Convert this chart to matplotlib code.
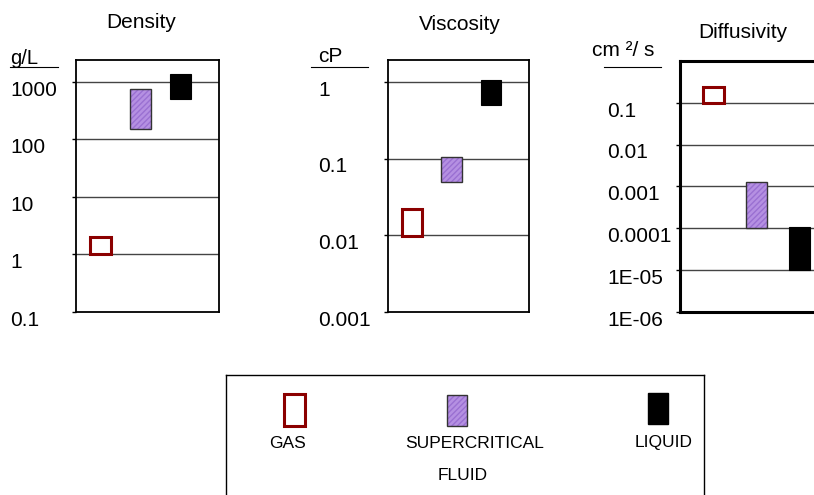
import matplotlib.pyplot as plt
from matplotlib.lines import Line2D

plt.rcParams['font.family'] = ['Liberation Sans', 'DejaVu Sans']

W, H = 814, 495

# data: (bottom, top) of each range, per property
phases = ['GAS', 'SUPERCRITICAL', 'LIQUID']
density_lo = [1.0, 150, 500]
density_hi = [2.0, 750, 1380]
viscosity_lo = [0.0098, 0.049, 0.5]
viscosity_hi = [0.022, 0.106, 1.06]
diffusivity_lo = [0.1, 1e-4, 1e-5]
diffusivity_hi = [0.24, 1.25e-3, 1.1e-4]

density_ticks = [0.1, 1, 10, 100, 1000]
density_labels = ['0.1', '1', '10', '100', '1000']
viscosity_ticks = [0.001, 0.01, 0.1, 1]
viscosity_labels = ['0.001', '0.01', '0.1', '1']
diffusivity_ticks = [1e-6, 1e-5, 1e-4, 1e-3, 1e-2, 1e-1]
diffusivity_labels = ['1E-06', '1E-05', '0.0001', '0.001', '0.01', '0.1']

gas_color = '#8B0000'
scf_color = '#B590E2'
scf_hatch = '#9A70D2'


def px_axes(left, top, right, bottom):
    return [left / W, 1 - bottom / H, (right - left) / W, (bottom - top) / H]


def draw_bars(ax, lo, hi, width=0.52):
    x = [1, 2, 3]
    h = [b - a for a, b in zip(lo, hi)]
    ax.bar(x[0], h[0], bottom=lo[0], width=width, facecolor='white',
           edgecolor=gas_color, linewidth=2.2, zorder=3)
    ax.bar(x[1], h[1], bottom=lo[1], width=width, facecolor=scf_color,
           edgecolor=scf_hatch, hatch='//////', linewidth=0, zorder=3)
    ax.bar(x[1], h[1], bottom=lo[1], width=width, facecolor='none',
           edgecolor='#333333', linewidth=1.0, zorder=4)
    ax.bar(x[2], h[2], bottom=lo[2], width=width, facecolor='black',
           edgecolor='black', linewidth=0.8, zorder=3)


def setup(ax, ticks, labels, ylim, label_x, spine_w=1.3):
    ax.set_yscale('log')
    ax.set_ylim(*ylim)
    ax.set_xlim(0.39, 3.96)
    ax.set_xticks([])
    ax.set_yticks(ticks)
    ax.yaxis.set_minor_locator(plt.NullLocator())
    ax.set_yticklabels([])
    ax.tick_params(axis='y', length=3, width=1, direction='out')
    for t in ticks[1:]:
        ax.axhline(t, color='#444444', linewidth=1, zorder=1)
    for s in ax.spines.values():
        s.set_linewidth(spine_w)
        s.set_color('black')
    for t, lab in zip(ticks, labels):
        ax.annotate(lab, xy=(label_x, t), xycoords=('figure pixels', 'data'),
                    xytext=(0, -6), textcoords='offset points',
                    ha='left', va='center', fontsize=15)


fig = plt.figure(figsize=(W / 100, H / 100), dpi=100)

# Density
ax1 = fig.add_axes(px_axes(76, 60, 219, 312))
setup(ax1, density_ticks, density_labels, (0.1, 2400), 10)
draw_bars(ax1, density_lo, density_hi)
fig.text(141 / W, 1 - 23 / H, 'Density', ha='center', va='center', fontsize=15)
fig.text(10 / W, 1 - 59 / H, 'g/L', ha='left', va='center', fontsize=14.5)
fig.add_artist(Line2D([10 / W, 58 / W], [1 - 67 / H, 1 - 67 / H], color='black', lw=0.8))

# Viscosity
ax2 = fig.add_axes(px_axes(388, 60, 529, 312))
setup(ax2, viscosity_ticks, viscosity_labels, (0.001, 1.93), 318)
draw_bars(ax2, viscosity_lo, viscosity_hi)
fig.text(460 / W, 1 - 25 / H, 'Viscosity', ha='center', va='center', fontsize=15)
fig.text(318 / W, 1 - 56 / H, 'cP', ha='left', va='center', fontsize=15)
fig.add_artist(Line2D([311 / W, 368 / W], [1 - 67 / H, 1 - 67 / H], color='black', lw=0.8))

# Diffusivity
ax3 = fig.add_axes(px_axes(680, 61, 833, 312))
setup(ax3, diffusivity_ticks, diffusivity_labels, (1e-6, 1.0), 607, spine_w=2.2)
draw_bars(ax3, diffusivity_lo, diffusivity_hi, width=0.5)
ax3.set_xlim(0.22, 3.78)
fig.text(743 / W, 1 - 32 / H, 'Diffusivity', ha='center', va='center', fontsize=15)
fig.text(592 / W, 1 - 51 / H, 'cm \u00b2/ s', ha='left', va='center', fontsize=15)
fig.add_artist(Line2D([604 / W, 661 / W], [1 - 67 / H, 1 - 67 / H], color='black', lw=0.8))

# legend box
lg = fig.add_axes(px_axes(226, 375, 704, 510))
lg.set_xlim(0, 478)
lg.set_ylim(135, 0)
lg.set_xticks([])
lg.set_yticks([])
for s in lg.spines.values():
    s.set_linewidth(1.0)
lg.bar(68, 32, bottom=19, width=21, facecolor='white', edgecolor=gas_color, linewidth=2.2)
lg.bar(231, 31, bottom=20, width=20, facecolor=scf_color, edgecolor=scf_hatch,
       hatch='//////', linewidth=0)
lg.bar(231, 31, bottom=20, width=20, facecolor='none', edgecolor='#333333', linewidth=1.0)
lg.bar(432, 31, bottom=18, width=20, facecolor='black', edgecolor='black')
lg.text(61, 69, 'GAS', ha='center', va='center', fontsize=12.5)
lg.text(249, 69, 'SUPERCRITICAL', ha='center', va='center', fontsize=12.5)
lg.text(237, 100, 'FLUID', ha='center', va='center', fontsize=12.5)
lg.text(438, 67, 'LIQUID', ha='center', va='center', fontsize=12.5)

fig.savefig('out.png', dpi=100)
